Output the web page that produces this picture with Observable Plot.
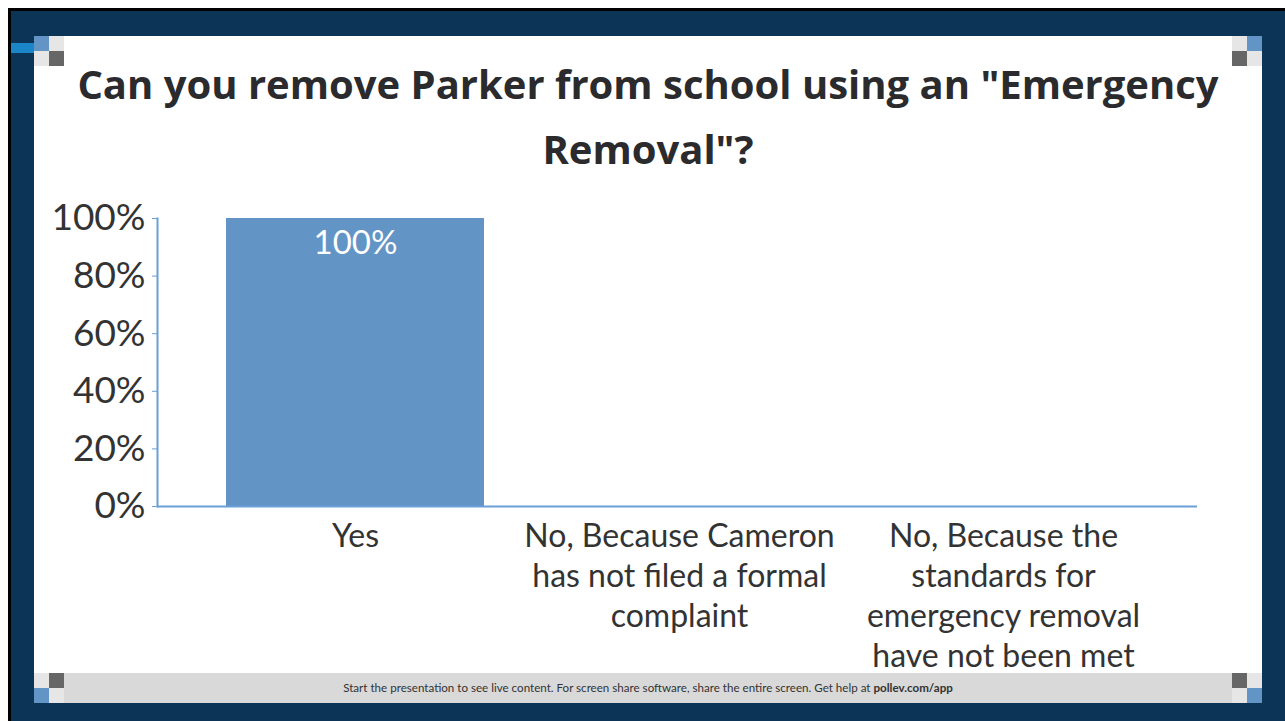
<!DOCTYPE html>
<html>
<head>
<meta charset="utf-8">
<script src="https://cdn.jsdelivr.net/npm/d3@7"></script>
<script src="https://cdn.jsdelivr.net/npm/@observablehq/plot@0.6"></script>
<style>
  html, body { margin: 0; padding: 0; }
  body { width: 1285px; height: 721px; position: relative; overflow: hidden; background: #0b3456; font-family: Lato, sans-serif; }
  .edge-top { position: absolute; left: 0; top: 0; width: 1285px; height: 8px; background: #fff; }
  .edge-left { position: absolute; left: 0; top: 0; width: 8px; height: 721px; background: #fff; }
  .blk-top { position: absolute; left: 8px; top: 8px; width: 1277px; height: 3px; background: #000; }
  .blk-left { position: absolute; left: 8px; top: 8px; width: 3px; height: 713px; background: #000; }
  .strip { position: absolute; left: 11px; top: 43px; width: 23px; height: 10px; background: #1a86c8; }
  .panel { position: absolute; left: 34px; top: 36px; width: 1228px; height: 637px; background: #fff; }
  .footer { position: absolute; left: 34px; top: 673px; width: 1228px; height: 30px; background: #d9d9d9; color: #333; font: 11.6px Lato, sans-serif; line-height: 30px; text-align: center; }
  .sq { position: absolute; width: 15px; height: 15px; }
  .b { background: #6394c6; } .l { background: #e6e6e6; } .d { background: #666; }
  #title { position: absolute; left: 34px; top: 51px; width: 1228px; text-align: center; font: 700 40px "Open Sans", sans-serif; line-height: 65px; color: #2b2b2e; }
  #chart { position: absolute; left: 34px; top: 185px; }
</style>
</head>
<body>
<div class="edge-top"></div><div class="edge-left"></div>
<div class="blk-top"></div><div class="blk-left"></div>
<div class="strip"></div>
<div class="panel"></div>
<div class="footer">Start the presentation to see live content. For screen share software, share the entire screen. Get help at <b>pollev.com/app</b></div>
<div class="sq b" style="left:34px;top:36px"></div><div class="sq l" style="left:49px;top:36px"></div>
<div class="sq l" style="left:34px;top:51px"></div><div class="sq d" style="left:49px;top:51px"></div>
<div class="sq l" style="left:1232px;top:36px"></div><div class="sq b" style="left:1247px;top:36px"></div>
<div class="sq d" style="left:1232px;top:51px"></div><div class="sq l" style="left:1247px;top:51px"></div>
<div class="sq l" style="left:34px;top:673px"></div><div class="sq d" style="left:49px;top:673px"></div>
<div class="sq b" style="left:34px;top:688px"></div><div class="sq l" style="left:49px;top:688px"></div>
<div class="sq d" style="left:1232px;top:673px"></div><div class="sq l" style="left:1247px;top:673px"></div>
<div class="sq l" style="left:1232px;top:688px"></div><div class="sq b" style="left:1247px;top:688px"></div>
<div id="title">Can you remove Parker from school using an "Emergency<br>Removal"?</div>
<div id="chart"></div>
<script>
const categories = [
  "Yes",
  "No, Because Cameron\nhas not filed a formal\ncomplaint",
  "No, Because the\nstandards for\nemergency removal\nhave not been met"
];
const values = [100, 0, 0];
const yTicks = [0, 20, 40, 60, 80, 100];

const data = categories.map((c, i) => ({category: c, value: values[i]}));
const axisColor = "#6a9fd8";

const plot = Plot.plot({
  width: 1228,
  height: 500,
  marginLeft: 123,
  marginRight: 65,
  marginTop: 33,
  marginBottom: 179,
  style: {background: "transparent", fontFamily: "Lato, sans-serif", color: "#333"},
  x: {domain: categories, paddingInner: 0.205, paddingOuter: 0.1025, insetLeft: 35, insetRight: 32},
  y: {domain: [0, 100]},
  marks: [
    Plot.barY(data, {x: "category", y: "value", fill: "#6394c6"}),
    Plot.text(data.filter(d => d.value > 0), {x: "category", y: "value", text: d => d.value + "%", dy: 25, fill: "#fff", fontSize: 33, fontFamily: "Lato, sans-serif"}),
    Plot.axisY({ticks: yTicks, tickFormat: d => d + "%", tickSize: 5, tickPadding: 7, stroke: axisColor, fill: "#333", fontSize: 37, label: null}),
    Plot.axisX({tickSize: 0, tickPadding: 12, fontSize: 32, lineHeight: 1.25, fill: "#333", label: null}),
    Plot.frame({anchor: "left", stroke: axisColor, strokeWidth: 2}),
    Plot.ruleY([0], {stroke: axisColor, strokeWidth: 2})
  ]
});
document.getElementById("chart").appendChild(plot);
</script>
</body>
</html>
